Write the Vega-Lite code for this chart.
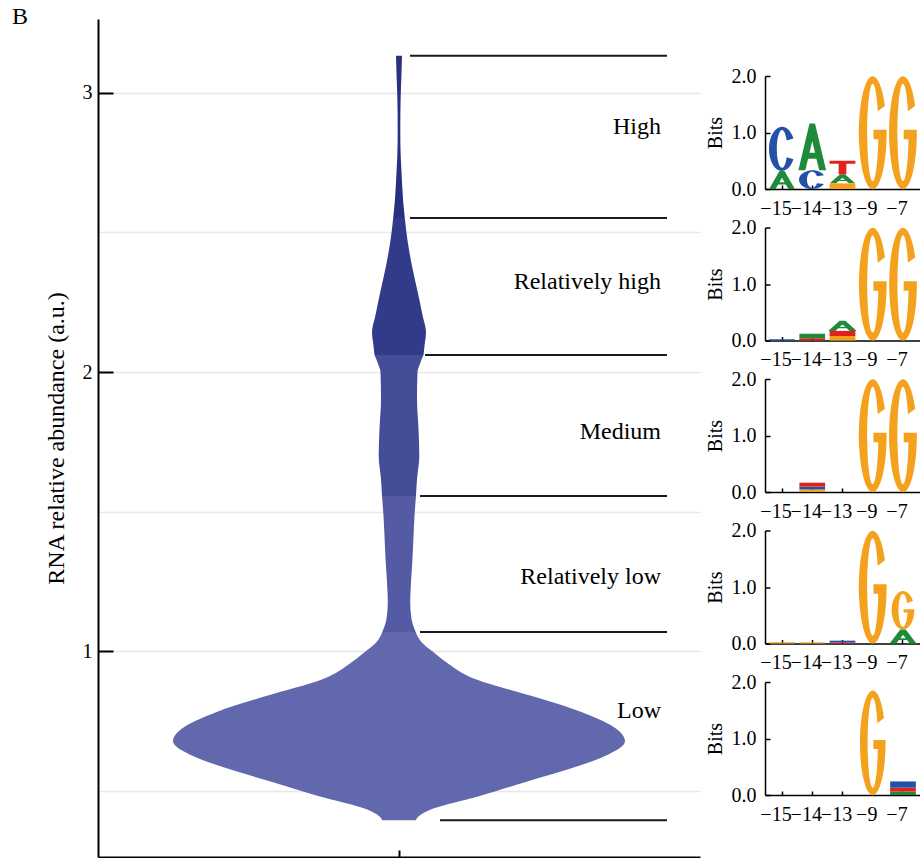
{
  "$schema": "https://vega.github.io/schema/vega-lite/v6.json",
  "padding": {"left": 12, "top": 5, "right": 0, "bottom": 0},
  "background": "white",
  "config": {
    "view": {"stroke": null},
    "axis": {"labelFont": "Liberation Serif", "titleFont": "Liberation Serif"},
    "text": {"font": "Liberation Serif"},
    "title": {"font": "Liberation Serif"}
  },
  "resolve": {"scale": {"color": "independent", "size": "independent", "shape": "independent"}},
  "bounds": "flush",
  "spacing": 65,
  "hconcat": [
    {
      "width": 602,
      "height": 838,
      "title": {"text": "B", "anchor": "start", "frame": "group", "offset": -10, "dx": -86, "fontSize": 24, "fontWeight": "normal", "color": "black"},
      "layer": [
        {
          "data": {"values": [
            {"level": "High", "v": 3.133, "lo": -3, "hi": 3},
            {"level": "High", "v": 3.06, "lo": -2.4, "hi": 2.4},
            {"level": "High", "v": 3.0, "lo": -1.8, "hi": 1.8},
            {"level": "High", "v": 2.93, "lo": -1.4, "hi": 1.4},
            {"level": "High", "v": 2.86, "lo": -1.3, "hi": 1.3},
            {"level": "High", "v": 2.774, "lo": -1.7, "hi": 1.7},
            {"level": "High", "v": 2.717, "lo": -2.5, "hi": 2.5},
            {"level": "High", "v": 2.62, "lo": -4, "hi": 4},
            {"level": "High", "v": 2.552, "lo": -5.8, "hi": 5.8},
            {"level": "Relatively high", "v": 2.552, "lo": -5.8, "hi": 5.8},
            {"level": "Relatively high", "v": 2.477, "lo": -8.3, "hi": 8.3},
            {"level": "Relatively high", "v": 2.38, "lo": -13, "hi": 13},
            {"level": "Relatively high", "v": 2.287, "lo": -18.7, "hi": 18.7},
            {"level": "Relatively high", "v": 2.201, "lo": -23.7, "hi": 23.7},
            {"level": "Relatively high", "v": 2.143, "lo": -27, "hi": 27},
            {"level": "Relatively high", "v": 2.093, "lo": -25.5, "hi": 25.5},
            {"level": "Relatively high", "v": 2.061, "lo": -24.5, "hi": 24.5},
            {"level": "Medium", "v": 2.061, "lo": -24.5, "hi": 24.5},
            {"level": "Medium", "v": 2.03, "lo": -21, "hi": 21},
            {"level": "Medium", "v": 2.0, "lo": -18.5, "hi": 18.5},
            {"level": "Medium", "v": 1.903, "lo": -18, "hi": 18},
            {"level": "Medium", "v": 1.796, "lo": -19.5, "hi": 19.5},
            {"level": "Medium", "v": 1.699, "lo": -20.3, "hi": 20.3},
            {"level": "Medium", "v": 1.616, "lo": -18, "hi": 18},
            {"level": "Medium", "v": 1.556, "lo": -17, "hi": 17},
            {"level": "Relatively low", "v": 1.556, "lo": -17, "hi": 17},
            {"level": "Relatively low", "v": 1.484, "lo": -15.5, "hi": 15.5},
            {"level": "Relatively low", "v": 1.412, "lo": -14.5, "hi": 14.5},
            {"level": "Relatively low", "v": 1.319, "lo": -13.3, "hi": 13.3},
            {"level": "Relatively low", "v": 1.247, "lo": -12, "hi": 12},
            {"level": "Relatively low", "v": 1.176, "lo": -11.2, "hi": 11.2},
            {"level": "Relatively low", "v": 1.115, "lo": -12.5, "hi": 12.5},
            {"level": "Relatively low", "v": 1.068, "lo": -16.7, "hi": 16.7},
            {"level": "Low", "v": 1.068, "lo": -16.7, "hi": 16.7},
            {"level": "Low", "v": 1.03, "lo": -23, "hi": 23},
            {"level": "Low", "v": 1.0, "lo": -33, "hi": 33},
            {"level": "Low", "v": 0.961, "lo": -47, "hi": 47},
            {"level": "Low", "v": 0.9, "lo": -76, "hi": 76},
            {"level": "Low", "v": 0.839, "lo": -133, "hi": 133},
            {"level": "Low", "v": 0.781, "lo": -183, "hi": 183},
            {"level": "Low", "v": 0.72, "lo": -218, "hi": 218},
            {"level": "Low", "v": 0.677, "lo": -226, "hi": 226},
            {"level": "Low", "v": 0.624, "lo": -206, "hi": 206},
            {"level": "Low", "v": 0.577, "lo": -170, "hi": 170},
            {"level": "Low", "v": 0.53, "lo": -126, "hi": 126},
            {"level": "Low", "v": 0.48, "lo": -80, "hi": 80},
            {"level": "Low", "v": 0.434, "lo": -33, "hi": 33},
            {"level": "Low", "v": 0.409, "lo": -20, "hi": 20},
            {"level": "Low", "v": 0.394, "lo": -16.7, "hi": 16.7}
          ]},
          "mark": {"type": "area", "orient": "horizontal", "interpolate": "monotone", "opacity": 1},
          "encoding": {
            "y": {
              "field": "v", "type": "quantitative",
              "scale": {"domain": [0.262, 3.265], "nice": false, "zero": false},
              "axis": {
                "values": [0.5, 1, 1.5, 2, 2.5, 3],
                "labelExpr": "datum.value % 1 === 0 ? format(datum.value, 'd') : ''",
                "tickOpacity": {"condition": {"test": "datum.value % 1 === 0", "value": 1}, "value": 0},
                "tickSize": -15, "tickWidth": 2, "tickColor": "black",
                "grid": true, "gridColor": "#e8e8e8", "gridWidth": 1.5,
                "domainColor": "black", "domainWidth": 2,
                "labelFontSize": 20, "labelColor": "black", "labelPadding": 21,
                "title": "RNA relative abundance (a.u.)", "titleFontSize": 24, "titleFontWeight": "normal", "titleColor": "black", "titlePadding": 14
              }
            },
            "x": {
              "field": "lo", "type": "quantitative", "stack": null,
              "scale": {"domain": [-301, 301], "nice": false, "zero": false},
              "axis": {"values": [0], "labels": false, "title": null, "tickSize": -7, "tickWidth": 2, "tickColor": "black", "grid": false, "domainColor": "black", "domainWidth": 2}
            },
            "x2": {"field": "hi"},
            "color": {
              "field": "level", "type": "nominal",
              "scale": {"domain": ["High", "Relatively high", "Medium", "Relatively low", "Low"], "range": ["#28307f", "#323a8a", "#454c98", "#545ba4", "#6268ad"]},
              "legend": null
            }
          }
        },
        {
          "data": {"values": [
            {"v": 3.133, "x0": 11, "x1": 268},
            {"v": 2.552, "x0": 11, "x1": 268},
            {"v": 2.061, "x0": 26, "x1": 268},
            {"v": 1.556, "x0": 21, "x1": 268},
            {"v": 1.068, "x0": 21, "x1": 268},
            {"v": 0.394, "x0": 41, "x1": 268}
          ]},
          "mark": {"type": "rule", "color": "#1a1a1a", "strokeWidth": 2},
          "encoding": {
            "y": {"field": "v", "type": "quantitative"},
            "x": {"field": "x0", "type": "quantitative"},
            "x2": {"field": "x1"}
          }
        },
        {
          "data": {"values": [
            {"label": "High", "v": 2.878},
            {"label": "Relatively high", "v": 2.323},
            {"label": "Medium", "v": 1.785},
            {"label": "Relatively low", "v": 1.265},
            {"label": "Low", "v": 0.785}
          ]},
          "mark": {"type": "text", "align": "right", "baseline": "middle", "fontSize": 24, "color": "black"},
          "encoding": {
            "y": {"field": "v", "type": "quantitative"},
            "x": {"datum": 262},
            "text": {"field": "label"}
          }
        }
      ]
    },
    {
      "bounds": "flush",
      "spacing": 0,
      "vconcat": [
        {"width": 155, "height": 57, "data": {"values": []}, "mark": "point"},
        {
          "data": {"values": [
            {"panel": 1, "pos": "−15", "letter": "A", "bits": 0.32},
            {"panel": 1, "pos": "−15", "letter": "C", "bits": 0.78},
            {"panel": 1, "pos": "−14", "letter": "C", "bits": 0.33},
            {"panel": 1, "pos": "−14", "letter": "A", "bits": 0.83},
            {"panel": 1, "pos": "−13", "letter": "G", "bits": 0.1},
            {"panel": 1, "pos": "−13", "letter": "A", "bits": 0.16},
            {"panel": 1, "pos": "−13", "letter": "T", "bits": 0.24},
            {"panel": 1, "pos": "−9", "letter": "G", "bits": 2.0},
            {"panel": 1, "pos": "−7", "letter": "G", "bits": 2.0},
            {"panel": 2, "pos": "−15", "letter": "C", "bits": 0.02},
            {"panel": 2, "pos": "−14", "letter": "T", "bits": 0.04},
            {"panel": 2, "pos": "−14", "letter": "A", "bits": 0.08},
            {"panel": 2, "pos": "−13", "letter": "G", "bits": 0.08},
            {"panel": 2, "pos": "−13", "letter": "T", "bits": 0.09},
            {"panel": 2, "pos": "−13", "letter": "A", "bits": 0.18},
            {"panel": 2, "pos": "−9", "letter": "G", "bits": 2.0},
            {"panel": 2, "pos": "−7", "letter": "G", "bits": 2.0},
            {"panel": 3, "pos": "−14", "letter": "G", "bits": 0.045},
            {"panel": 3, "pos": "−14", "letter": "C", "bits": 0.05},
            {"panel": 3, "pos": "−14", "letter": "T", "bits": 0.07},
            {"panel": 3, "pos": "−9", "letter": "G", "bits": 2.0},
            {"panel": 3, "pos": "−7", "letter": "G", "bits": 2.0},
            {"panel": 4, "pos": "−15", "letter": "G", "bits": 0.02},
            {"panel": 4, "pos": "−14", "letter": "G", "bits": 0.02},
            {"panel": 4, "pos": "−13", "letter": "T", "bits": 0.02},
            {"panel": 4, "pos": "−13", "letter": "C", "bits": 0.03},
            {"panel": 4, "pos": "−9", "letter": "G", "bits": 2.0},
            {"panel": 4, "pos": "−7", "letter": "A", "bits": 0.25},
            {"panel": 4, "pos": "−7", "letter": "G", "bits": 0.68},
            {"panel": 5, "pos": "−9", "letter": "G", "bits": 1.85},
            {"panel": 5, "pos": "−7", "letter": "A", "bits": 0.06},
            {"panel": 5, "pos": "−7", "letter": "T", "bits": 0.07},
            {"panel": 5, "pos": "−7", "letter": "C", "bits": 0.11}
          ]},
          "transform": [
            {"stack": "bits", "groupby": ["panel", "pos"], "sort": [{"field": "bits", "order": "ascending"}], "as": ["lo", "hi"]}
          ],
          "facet": {"row": {"field": "panel", "type": "ordinal", "header": null}},
          "spacing": {"row": 38.5},
          "bounds": "flush",
          "resolve": {"axis": {"x": "independent", "y": "independent"}},
          "spec": {
            "width": 155,
            "height": 113,
            "resolve": {"scale": {"shape": "independent"}},
            "layer": [
              {
                "transform": [{"filter": "datum.letter === 'G' && datum.bits >= 0.14"}],
                "mark": {"type": "point", "filled": true, "opacity": 1, "strokeWidth": 0},
                "encoding": {
                  "x": {
                    "field": "pos", "type": "ordinal",
                    "scale": {"type": "band", "domain": ["−15", "−14", "−13", "−9", "−7"], "paddingInner": 0, "paddingOuter": 0.062},
                    "axis": {"title": null, "labelAngle": 0, "labelOverlap": false, "labelFontSize": 20, "labelColor": "black", "labelPadding": 13, "labelOffset": -6, "tickSize": -4, "tickWidth": 1.5, "tickColor": "black", "domainColor": "black", "domainWidth": 1.5, "grid": false}
                  },
                  "y": {
                    "field": "lo", "type": "quantitative",
                    "scale": {"domain": [0, 2], "nice": false},
                    "axis": {"title": "Bits", "values": [0, 1, 2], "format": ".1f", "labelFontSize": 20, "labelColor": "black", "labelPadding": 14, "tickSize": -5, "tickWidth": 1.5, "tickColor": "black", "domainColor": "black", "domainWidth": 1.5, "grid": false, "titleFontSize": 20, "titleFontWeight": "normal", "titleColor": "black", "titlePadding": 6}
                  },
                  "size": {"field": "bits", "type": "quantitative", "scale": {"type": "pow", "exponent": 2, "domain": [0, 2], "range": [0, 12769]}, "legend": null},
                  "shape": {
                    "field": "bits", "type": "quantitative",
                    "scale": {"type": "threshold", "domain": [0.2, 0.28, 0.6, 1.4], "range": [
                      "M2.464 -1.475 A2.8 1 0 1 0 2.8 -1.05 L0.14 -1.05 L0.14 -0.88 L1.1088 -0.88 A1.12 0.86 0 1 1 1.008 -1.375 Z",
                      "M1.672 -1.475 A1.9 1 0 1 0 1.9 -1.05 L0.095 -1.05 L0.095 -0.88 L0.7524 -0.88 A0.76 0.86 0 1 1 0.684 -1.375 Z",
                      "M1.2496 -1.475 A1.42 1 0 1 0 1.42 -1.05 L0.071 -1.05 L0.071 -0.88 L0.5623 -0.88 A0.568 0.86 0 1 1 0.5112 -1.375 Z",
                      "M0.5192 -1.475 A0.59 1 0 1 0 0.59 -1.05 L0.0295 -1.05 L0.0295 -0.88 L0.2336 -0.88 A0.236 0.86 0 1 1 0.2124 -1.375 Z",
                      "M0.2156 -1.475 A0.245 1 0 1 0 0.245 -1.05 L0.0123 -1.05 L0.0123 -0.88 L0.097 -0.88 A0.098 0.86 0 1 1 0.0882 -1.375 Z"
                    ]},
                    "legend": null
                  },
                  "color": {"field": "letter", "type": "nominal", "scale": {"domain": ["A", "C", "G", "T"], "range": ["#1f8a3b", "#2152a8", "#f4a21d", "#e3211c"]}, "legend": null}
                }
              },
              {
                "transform": [{"filter": "datum.letter === 'C' && datum.bits >= 0.14"}],
                "mark": {"type": "point", "filled": true, "opacity": 1, "strokeWidth": 0},
                "encoding": {
                  "x": {"field": "pos", "type": "ordinal"},
                  "y": {"field": "lo", "type": "quantitative"},
                  "size": {"field": "bits", "type": "quantitative", "legend": null},
                  "shape": {
                    "field": "bits", "type": "quantitative",
                    "scale": {"type": "threshold", "domain": [0.2, 0.28, 0.6, 1.4], "range": [
                      "M2.464 -1.475 A2.8 1 0 1 0 2.464 -0.525 L1.008 -0.625 A1.12 0.86 0 1 1 1.008 -1.375 Z",
                      "M1.672 -1.475 A1.9 1 0 1 0 1.672 -0.525 L0.684 -0.625 A0.76 0.86 0 1 1 0.684 -1.375 Z",
                      "M1.2496 -1.475 A1.42 1 0 1 0 1.2496 -0.525 L0.5112 -0.625 A0.568 0.86 0 1 1 0.5112 -1.375 Z",
                      "M0.5192 -1.475 A0.59 1 0 1 0 0.5192 -0.525 L0.2124 -0.625 A0.236 0.86 0 1 1 0.2124 -1.375 Z",
                      "M0.2156 -1.475 A0.245 1 0 1 0 0.2156 -0.525 L0.0882 -0.625 A0.098 0.86 0 1 1 0.0882 -1.375 Z"
                    ]},
                    "legend": null
                  },
                  "color": {"field": "letter", "type": "nominal", "legend": null}
                }
              },
              {
                "transform": [{"filter": "datum.letter === 'A' && datum.bits >= 0.14"}],
                "mark": {"type": "point", "filled": true, "opacity": 1, "strokeWidth": 0},
                "encoding": {
                  "x": {"field": "pos", "type": "ordinal"},
                  "y": {"field": "lo", "type": "quantitative"},
                  "size": {"field": "bits", "type": "quantitative", "legend": null},
                  "shape": {
                    "field": "bits", "type": "quantitative",
                    "scale": {"type": "threshold", "domain": [0.2, 0.28, 0.6, 1.4], "range": [
                      "M-2.8 0 L-0.56 -2 L0.56 -2 L2.8 0 L1.4 0 L0.84 -0.5 L-0.84 -0.5 L-1.4 0 Z M0 -1.25 L-0.56 -0.75 L0.56 -0.75 Z",
                      "M-1.9 0 L-0.38 -2 L0.38 -2 L1.9 0 L0.95 0 L0.57 -0.5 L-0.57 -0.5 L-0.95 0 Z M0 -1.25 L-0.38 -0.75 L0.38 -0.75 Z",
                      "M-1.42 0 L-0.284 -2 L0.284 -2 L1.42 0 L0.71 0 L0.426 -0.5 L-0.426 -0.5 L-0.71 0 Z M0 -1.25 L-0.284 -0.75 L0.284 -0.75 Z",
                      "M-0.59 0 L-0.118 -2 L0.118 -2 L0.59 0 L0.295 0 L0.177 -0.5 L-0.177 -0.5 L-0.295 0 Z M0 -1.25 L-0.118 -0.75 L0.118 -0.75 Z",
                      "M-0.245 0 L-0.049 -2 L0.049 -2 L0.245 0 L0.1225 0 L0.0735 -0.5 L-0.0735 -0.5 L-0.1225 0 Z M0 -1.25 L-0.049 -0.75 L0.049 -0.75 Z"
                    ]},
                    "legend": null
                  },
                  "color": {"field": "letter", "type": "nominal", "legend": null}
                }
              },
              {
                "transform": [{"filter": "datum.letter === 'T' && datum.bits >= 0.14"}],
                "mark": {"type": "point", "filled": true, "opacity": 1, "strokeWidth": 0},
                "encoding": {
                  "x": {"field": "pos", "type": "ordinal"},
                  "y": {"field": "lo", "type": "quantitative"},
                  "size": {"field": "bits", "type": "quantitative", "legend": null},
                  "shape": {
                    "field": "bits", "type": "quantitative",
                    "scale": {"type": "threshold", "domain": [0.2, 0.28, 0.6, 1.4], "range": [
                      "M-2.8 -2 L2.8 -2 L2.8 -1.55 L0.84 -1.55 L0.84 0 L-0.84 0 L-0.84 -1.55 L-2.8 -1.55 Z",
                      "M-1.9 -2 L1.9 -2 L1.9 -1.55 L0.57 -1.55 L0.57 0 L-0.57 0 L-0.57 -1.55 L-1.9 -1.55 Z",
                      "M-1.42 -2 L1.42 -2 L1.42 -1.55 L0.426 -1.55 L0.426 0 L-0.426 0 L-0.426 -1.55 L-1.42 -1.55 Z",
                      "M-0.59 -2 L0.59 -2 L0.59 -1.55 L0.177 -1.55 L0.177 0 L-0.177 0 L-0.177 -1.55 L-0.59 -1.55 Z",
                      "M-0.245 -2 L0.245 -2 L0.245 -1.55 L0.0735 -1.55 L0.0735 0 L-0.0735 0 L-0.0735 -1.55 L-0.245 -1.55 Z"
                    ]},
                    "legend": null
                  },
                  "color": {"field": "letter", "type": "nominal", "legend": null}
                }
              },
              {
                "transform": [{"filter": "datum.bits < 0.14"}],
                "mark": {"type": "bar", "width": {"band": 0.85}},
                "encoding": {
                  "x": {"field": "pos", "type": "ordinal"},
                  "y": {"field": "lo", "type": "quantitative"},
                  "y2": {"field": "hi"},
                  "color": {"field": "letter", "type": "nominal", "legend": null}
                }
              }
            ]
          }
        }
      ]
    }
  ]
}
